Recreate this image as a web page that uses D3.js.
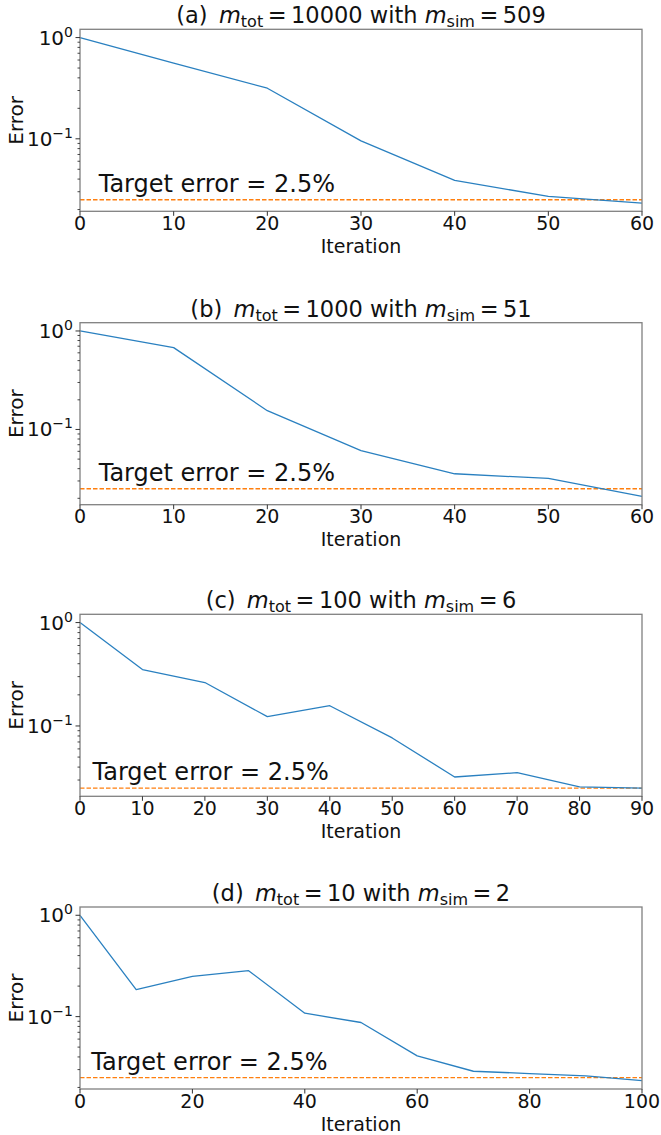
<!DOCTYPE html>
<html>
<head>
<meta charset="utf-8">
<script src="https://cdn.jsdelivr.net/npm/d3@7"></script>
<style>
  html, body { margin: 0; padding: 0; background: #fff; }
  svg { display: block; font-family: "DejaVu Sans", sans-serif; }
</style>
</head>
<body>
<svg id="chart" width="661" height="1135"></svg>
<script>
// Convergence of the error over iterations for four problem sizes
const panelLabels = ["(a)", "(b)", "(c)", "(d)"];
const mTot = [10000, 1000, 100, 10];
const mSim = [509, 51, 6, 2];

const iterA = [0, 10, 20, 30, 40, 50, 60];
const errorA = [1.0, 0.56, 0.316, 0.0955, 0.0388, 0.027, 0.0232];

const iterB = [0, 10, 20, 30, 40, 50, 60];
const errorB = [1.0, 0.678, 0.155, 0.061, 0.0355, 0.0318, 0.0209];

const iterC = [0, 10, 20, 30, 40, 50, 60, 70, 80, 90];
const errorC = [1.0, 0.351, 0.263, 0.123, 0.157, 0.0766, 0.0321, 0.0353, 0.0257, 0.0251];

const iterD = [0, 10, 20, 30, 40, 50, 60, 70, 80, 90, 100];
const errorD = [1.0, 0.185, 0.249, 0.284, 0.108, 0.0875, 0.041, 0.0289, 0.0274, 0.026, 0.0233];

const xTicksA = [0, 10, 20, 30, 40, 50, 60];
const xTicksB = [0, 10, 20, 30, 40, 50, 60];
const xTicksC = [0, 10, 20, 30, 40, 50, 60, 70, 80, 90];
const xTicksD = [0, 20, 40, 60, 80, 100];

const yMajorTicks = [1, 0.1];
const yMinorTicks = [0.9, 0.8, 0.7, 0.6, 0.5, 0.4, 0.3, 0.2,
                     0.09, 0.08, 0.07, 0.06, 0.05, 0.04, 0.03, 0.02, 0.01];
const yTickExponents = ["0", "\u22121"];

const targetError = 0.025;
const targetLabel = "Target error = 2.5%";
const targetLabelPos = [2, 0.03];

const panels = [
  { x: iterA, y: errorA, ticks: xTicksA },
  { x: iterB, y: errorB, ticks: xTicksB },
  { x: iterC, y: errorC, ticks: xTicksC },
  { x: iterD, y: errorD, ticks: xTicksD },
];

// layout
const plotLeft = 80, plotRight = 642, plotH = 182;
const plotTops = [29.3, 322.7, 614.3, 907];
const blue = "#2a80c0", orange = "#ff7f0e";
const spineColor = "#808080";
const thin = "\u2009";

const svg = d3.select("#chart");

panels.forEach((p, i) => {
  const top = plotTops[i], bottom = top + plotH;
  const g = svg.append("g");

  // log-scale limits padded by 5% of the decade span, like a default autoscale
  const lo = Math.log10(d3.min(p.y)), hi = Math.log10(d3.max(p.y));
  const pad = 0.05 * (hi - lo);
  const y = d3.scaleLog().domain([Math.pow(10, lo - pad), Math.pow(10, hi + pad)]).range([bottom, top]);
  const x = d3.scaleLinear().domain([0, d3.max(p.x)]).range([plotLeft, plotRight]);
  const [yMin, yMax] = y.domain();

  // target line
  g.append("line")
    .attr("x1", x.range()[0]).attr("x2", x.range()[1])
    .attr("y1", y(targetError)).attr("y2", y(targetError))
    .attr("stroke", orange).attr("stroke-width", 1.3)
    .attr("stroke-dasharray", "4.5,2");

  // error curve
  const line = d3.line().x((d, k) => x(p.x[k])).y(d => y(d));
  g.append("path").datum(p.y)
    .attr("d", line)
    .attr("fill", "none").attr("stroke", blue).attr("stroke-width", 1.3)
    .attr("stroke-linejoin", "round");

  // target annotation
  g.append("text")
    .attr("x", x(targetLabelPos[0])).attr("y", y(targetLabelPos[1]))
    .attr("font-size", 24).attr("fill", "#111")
    .text(targetLabel);

  // frame
  g.append("rect")
    .attr("x", plotLeft).attr("y", top)
    .attr("width", plotRight - plotLeft).attr("height", plotH)
    .attr("fill", "none").attr("stroke", spineColor).attr("stroke-width", 1.3);

  // y ticks
  yMinorTicks.filter(v => v >= yMin && v <= yMax).forEach(v => {
    g.append("line").attr("x1", plotLeft).attr("x2", plotLeft - 2.5)
      .attr("y1", y(v)).attr("y2", y(v)).attr("stroke", "#333").attr("stroke-width", 0.9);
  });
  yMajorTicks.forEach((v, k) => {
    g.append("line").attr("x1", plotLeft).attr("x2", plotLeft - 4.5)
      .attr("y1", y(v)).attr("y2", y(v)).attr("stroke", "#333").attr("stroke-width", 1);
    const t = g.append("text")
      .attr("x", plotLeft - 7).attr("y", y(v) + 7)
      .attr("text-anchor", "end").attr("font-size", 20).attr("fill", "#111");
    t.append("tspan").text("10");
    t.append("tspan").attr("dy", -8).attr("font-size", 14).text(yTickExponents[k]);
  });

  // x ticks
  p.ticks.forEach(v => {
    g.append("line").attr("x1", x(v)).attr("x2", x(v))
      .attr("y1", bottom).attr("y2", bottom + 4.5).attr("stroke", "#333").attr("stroke-width", 1);
    g.append("text")
      .attr("x", x(v)).attr("y", bottom + 18.5)
      .attr("text-anchor", "middle").attr("font-size", 19).attr("fill", "#111")
      .text(v);
  });

  // axis labels
  g.append("text")
    .attr("x", (plotLeft + plotRight) / 2).attr("y", bottom + 41.5)
    .attr("text-anchor", "middle").attr("font-size", 19).attr("fill", "#111")
    .text("Iteration");
  g.append("text")
    .attr("transform", `translate(23,${(top + bottom) / 2}) rotate(-90)`)
    .attr("text-anchor", "middle").attr("font-size", 20).attr("fill", "#111")
    .text("Error");

  // title with subscripted symbols
  const title = g.append("text")
    .attr("x", (plotLeft + plotRight) / 2).attr("y", top - 6)
    .attr("text-anchor", "middle").attr("font-size", 22.5).attr("fill", "#111");
  title.append("tspan").text(panelLabels[i] + "\u2002");
  title.append("tspan").attr("font-style", "italic").text("m");
  title.append("tspan").attr("font-size", 16).attr("dy", 4).text("tot");
  title.append("tspan").attr("dy", -4).text(`${thin}=${thin}${mTot[i]} with `);
  title.append("tspan").attr("font-style", "italic").text("m");
  title.append("tspan").attr("font-size", 16).attr("dy", 4).text("sim");
  title.append("tspan").attr("dy", -4).text(`${thin}=${thin}${mSim[i]}`);
});
</script>
</body>
</html>
